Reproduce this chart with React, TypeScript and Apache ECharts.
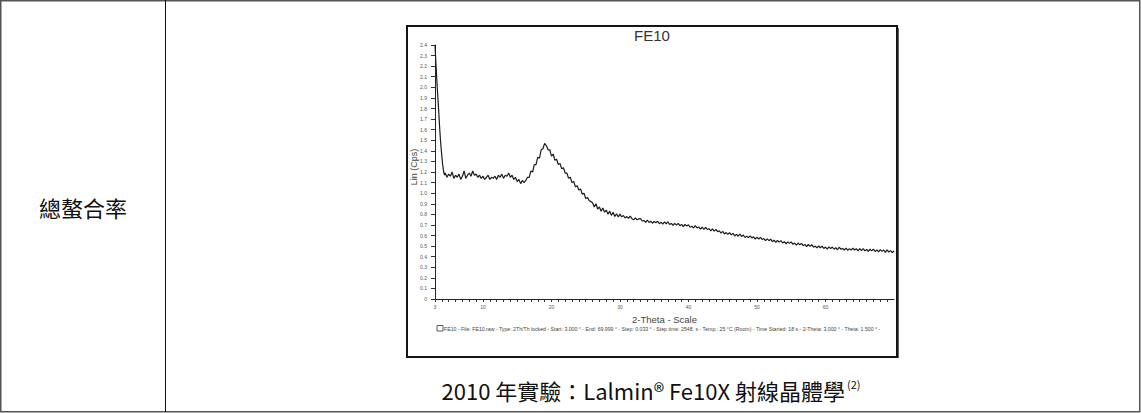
import React, { useEffect, useRef } from "react";
import * as echarts from "echarts";

const chartTitle = "FE10";
const rowLabel = "總螯合率";
const captionMain = "2010 年實驗：Lalmin® Fe10X 射線晶體學";
const captionNote = "(2)";
const yAxisName = "Lin (Cps)";
const xAxisName = "2-Theta - Scale";
const scanInfo =
  "FE10 - File: FE10.raw - Type: 2Th/Th locked - Start: 3.000 ° - End: 69.999 ° - Step: 0.033 ° - Step time: 2548. s - Temp.: 25 °C (Room) - Time Started: 18 s - 2-Theta: 3.000 ° - Theta: 1.500 ° -";
const xLabelValues = [3, 10, 20, 30, 40, 50, 60];
const xRange = [3, 70];
const yRange = [0, 2.4];

// [2-Theta, Lin (Cps)]
const xrdScan: [number, number][] = [
  [3.0, 2.4], [3.1, 2.27], [3.2, 2.15], [3.3, 2.03], [3.4, 1.92], [3.5, 1.82], [3.6, 1.71], [3.7, 1.6],
  [3.8, 1.5], [3.9, 1.42], [4.0, 1.35], [4.1, 1.28], [4.2, 1.23], [4.3, 1.19], [4.4, 1.17],
  [4.5, 1.19], [4.75, 1.15], [5.0, 1.18], [5.25, 1.16], [5.5, 1.2], [5.75, 1.14], [6.0, 1.17], [6.25, 1.15],
  [6.5, 1.18], [6.75, 1.13], [7.0, 1.16], [7.25, 1.21], [7.5, 1.14], [7.75, 1.17], [8.0, 1.19], [8.25, 1.16],
  [8.5, 1.21], [8.75, 1.17], [9.0, 1.18], [9.25, 1.15], [9.5, 1.17], [9.75, 1.14], [10.0, 1.16], [10.25, 1.13],
  [10.5, 1.15], [10.75, 1.17], [11.0, 1.13], [11.25, 1.15], [11.5, 1.14], [11.75, 1.16], [12.0, 1.13], [12.25, 1.17],
  [12.5, 1.15], [12.75, 1.18], [13.0, 1.14], [13.25, 1.17], [13.5, 1.16], [13.75, 1.19], [14.0, 1.15], [14.25, 1.17],
  [14.5, 1.13], [14.75, 1.15], [15.0, 1.11], [15.25, 1.13], [15.5, 1.09], [15.75, 1.12], [16.0, 1.1], [16.25, 1.12],
  [16.5, 1.15], [16.75, 1.15], [17.0, 1.21], [17.25, 1.2], [17.5, 1.27], [17.75, 1.27], [18.0, 1.34], [18.25, 1.33],
  [18.5, 1.41], [18.75, 1.42], [19.0, 1.47], [19.25, 1.45], [19.5, 1.41], [19.75, 1.41], [20.0, 1.35], [20.25, 1.37],
  [20.5, 1.31], [20.75, 1.32], [21.0, 1.27], [21.25, 1.28], [21.5, 1.23], [21.75, 1.24], [22.0, 1.19], [22.25, 1.19],
  [22.5, 1.14], [22.75, 1.15], [23.0, 1.1], [23.25, 1.11], [23.5, 1.06], [23.75, 1.07], [24.0, 1.03], [24.25, 1.04],
  [24.5, 0.99], [24.75, 1.0], [25.0, 0.95], [25.25, 0.96], [25.5, 0.93], [25.75, 0.92], [26.0, 0.91], [26.25, 0.87],
  [26.5, 0.9], [26.75, 0.85], [27.0, 0.87], [27.25, 0.83], [27.5, 0.86], [27.75, 0.82], [28.0, 0.84], [28.25, 0.8],
  [28.5, 0.83], [28.75, 0.79], [29.0, 0.82], [29.25, 0.78], [29.5, 0.805], [29.75, 0.775],
  [30.0, 0.802], [30.25, 0.776], [30.5, 0.789], [30.75, 0.765], [31.0, 0.779], [31.25, 0.763], [31.5, 0.783], [31.75, 0.759],
  [32.0, 0.748], [32.25, 0.766], [32.5, 0.749], [32.75, 0.758], [33.0, 0.759], [33.25, 0.737], [33.5, 0.742], [33.75, 0.725],
  [34.0, 0.746], [34.25, 0.723], [34.5, 0.735], [34.75, 0.716], [35.0, 0.733], [35.25, 0.721], [35.5, 0.735], [35.75, 0.711],
  [36.0, 0.726], [36.25, 0.707], [36.5, 0.728], [36.75, 0.711], [37.0, 0.728], [37.25, 0.704], [37.5, 0.714], [37.75, 0.697],
  [38.0, 0.714], [38.25, 0.698], [38.5, 0.715], [38.75, 0.693], [39.0, 0.705], [39.25, 0.685], [39.5, 0.704], [39.75, 0.689],
  [40.0, 0.701], [40.25, 0.678], [40.5, 0.688], [40.75, 0.671], [41.0, 0.694], [41.25, 0.671], [41.5, 0.681], [41.75, 0.661],
  [42.0, 0.678], [42.25, 0.658], [42.5, 0.677], [42.75, 0.657], [43.0, 0.664], [43.25, 0.644], [43.5, 0.663], [43.75, 0.641],
  [44.0, 0.658], [44.25, 0.636], [44.5, 0.645], [44.75, 0.623], [45.0, 0.639], [45.25, 0.614], [45.5, 0.628], [45.75, 0.61],
  [46.0, 0.627], [46.25, 0.607], [46.5, 0.62], [46.75, 0.595], [47.0, 0.611], [47.25, 0.593], [47.5, 0.614], [47.75, 0.591],
  [48.0, 0.604], [48.25, 0.581], [48.5, 0.594], [48.75, 0.579], [49.0, 0.597], [49.25, 0.577], [49.5, 0.588], [49.75, 0.566],
  [50.0, 0.585], [50.25, 0.565], [50.5, 0.583], [50.75, 0.563], [51.0, 0.571], [51.25, 0.551], [51.5, 0.569], [51.75, 0.551],
  [52.0, 0.566], [52.25, 0.543], [52.5, 0.555], [52.75, 0.536], [53.0, 0.553], [53.25, 0.537], [53.5, 0.552], [53.75, 0.529],
  [54.0, 0.541], [54.25, 0.522], [54.5, 0.54], [54.75, 0.526], [55.0, 0.54], [55.25, 0.516], [55.5, 0.529], [55.75, 0.51],
  [56.0, 0.529], [56.25, 0.512], [56.5, 0.526], [56.75, 0.504], [57.0, 0.516], [57.25, 0.496], [57.5, 0.515], [57.75, 0.498],
  [58.0, 0.513], [58.25, 0.49], [58.5, 0.5], [58.75, 0.483], [59.0, 0.501], [59.25, 0.484], [59.5, 0.5], [59.75, 0.478],
  [60.0, 0.491], [60.25, 0.472], [60.5, 0.493], [60.75, 0.476], [61.0, 0.491], [61.25, 0.47], [61.5, 0.485], [61.75, 0.465],
  [62.0, 0.489], [62.25, 0.469], [62.5, 0.479], [62.75, 0.463], [63.0, 0.481], [63.25, 0.459], [63.5, 0.476], [63.75, 0.462],
  [64.0, 0.481], [64.25, 0.463], [64.5, 0.475], [64.75, 0.455], [65.0, 0.476], [65.25, 0.458], [65.5, 0.477], [65.75, 0.455],
  [66.0, 0.468], [66.25, 0.451], [66.5, 0.47], [66.75, 0.455], [67.0, 0.472], [67.25, 0.449], [67.5, 0.464], [67.75, 0.445],
  [68.0, 0.466], [68.25, 0.45], [68.5, 0.462], [68.75, 0.441], [69.0, 0.464], [69.25, 0.444], [69.5, 0.457], [69.75, 0.439],
  [70.0, 0.454],
];

const LATIN = "'Liberation Sans', Arial, sans-serif";
const CJK = "'Noto Sans CJK TC', 'Noto Sans', sans-serif";

export default function App() {
  const ref = useRef<HTMLDivElement>(null);

  useEffect(() => {
    if (!ref.current) return;
    const chart = echarts.init(ref.current, undefined, { renderer: "svg" });
    chart.setOption({
      animation: false,
      backgroundColor: "#ffffff",
      grid: { left: 435, top: 45, right: 1141 - 894, bottom: 413 - 299, containLabel: false },
      xAxis: {
        type: "value",
        min: xRange[0],
        max: xRange[1],
        interval: 1,
        splitLine: { show: false },
        axisLine: { lineStyle: { color: "#222", width: 1 } },
        axisTick: { length: 3, lineStyle: { color: "#333" } },
        axisLabel: {
          margin: 5,
          fontSize: 5,
          color: "#555",
          fontFamily: LATIN,
          showMaxLabel: false,
          formatter: (v: number) => (xLabelValues.includes(v) ? String(v) : ""),
        },
        name: xAxisName,
        nameLocation: "middle",
        nameGap: 15,
        nameTextStyle: { fontSize: 9.5, color: "#444", fontFamily: LATIN },
      },
      yAxis: {
        type: "value",
        min: yRange[0],
        max: yRange[1],
        interval: 0.1,
        splitLine: { show: false },
        axisLine: { show: true, lineStyle: { color: "#222", width: 1 } },
        axisTick: { show: true, length: 4, lineStyle: { color: "#333" } },
        axisLabel: {
          margin: 8,
          fontSize: 5,
          color: "#555",
          fontFamily: LATIN,
          formatter: (v: number) => (Math.abs(v) < 1e-9 ? "0" : v.toFixed(1)),
        },
      },
      series: [
        {
          type: "line",
          data: xrdScan,
          showSymbol: false,
          lineStyle: { color: "#1c1c1c", width: 1.2 },
          z: 3,
        },
      ],
      graphic: [
        {
          type: "rect",
          shape: { x: 0.75, y: 0.75, width: 1139, height: 411 },
          style: { fill: "none", stroke: "#555", lineWidth: 1.5 },
          silent: true,
        },
        {
          type: "line",
          shape: { x1: 165.5, y1: 0, x2: 165.5, y2: 412 },
          style: { stroke: "#111", lineWidth: 1 },
          silent: true,
        },
        {
          type: "rect",
          shape: { x: 407, y: 26, width: 490, height: 331 },
          style: { fill: "none", stroke: "#151515", lineWidth: 2 },
          silent: true,
        },
        {
          type: "line",
          shape: { x1: 898.5, y1: 28, x2: 898.5, y2: 358 },
          style: { stroke: "#666", lineWidth: 1 },
          silent: true,
        },
        {
          type: "text",
          x: 652,
          y: 35,
          style: {
            text: chartTitle,
            fontSize: 15,
            fontFamily: LATIN,
            fill: "#333",
            align: "center",
            verticalAlign: "middle",
          },
        },
        {
          type: "text",
          x: 414,
          y: 167,
          rotation: Math.PI / 2,
          style: {
            text: yAxisName,
            fontSize: 9,
            fontFamily: LATIN,
            fill: "#444",
            align: "center",
            verticalAlign: "middle",
          },
        },
        {
          type: "rect",
          shape: { x: 437, y: 325.5, width: 6, height: 5.5 },
          style: { fill: "#fff", stroke: "#333", lineWidth: 0.8 },
        },
        {
          type: "text",
          x: 444,
          y: 328.5,
          style: {
            text: scanInfo,
            fontSize: 5.2,
            fontFamily: LATIN,
            fill: "#444",
            align: "left",
            verticalAlign: "middle",
          },
        },
        {
          type: "text",
          x: 83,
          y: 207,
          style: {
            text: rowLabel,
            fontSize: 22,
            fontFamily: CJK,
            fill: "#111",
            align: "center",
            verticalAlign: "middle",
          },
        },
        {
          type: "text",
          x: 651,
          y: 390,
          style: {
            text: "{m|" + captionMain + "}{s|" + captionNote + "}",
            align: "center",
            verticalAlign: "middle",
            rich: {
              m: { fontSize: 22, fontFamily: CJK, fill: "#111", color: "#111" },
              s: {
                fontSize: 11,
                fontFamily: CJK,
                fill: "#111",
                color: "#111",
                verticalAlign: "top",
                padding: [0, 0, 12, 2],
              },
            },
          },
        },
      ],
    });
    return () => chart.dispose();
  }, []);

  return (
    <div
      ref={ref}
      style={{ position: "absolute", left: 0, top: 0, width: 1141, height: 413 }}
    />
  );
}
